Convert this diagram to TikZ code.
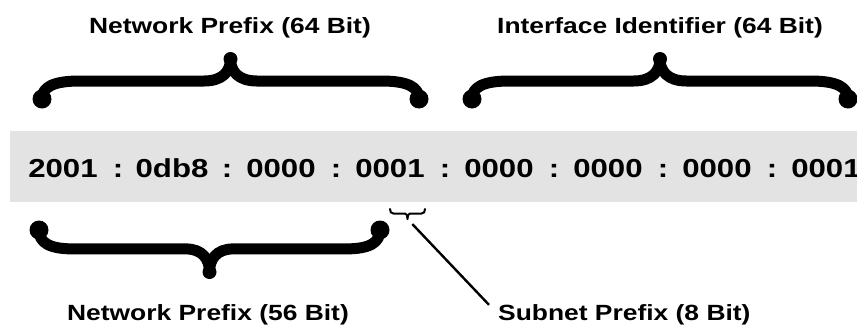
\documentclass[tikz,border=0pt]{standalone}
\usepackage{fontspec}
\newfontfamily\lblfont[FakeStretch=1.2]{Liberation Sans Bold}
\definecolor{band}{HTML}{E3E3E3}
\tikzset{
  lbl/.style={font=\lblfont\fontsize{22}{26}\selectfont,inner sep=0pt,anchor=base},
  addr/.style={font=\lblfont\fontsize{26}{30}\selectfont,inner sep=0pt,anchor=base},
  blob/.style={circle,fill,inner sep=0pt,minimum size=19pt},
  tipblob/.style={circle,fill,inner sep=0pt,minimum size=14pt},
  pics/curly/.style={code={
    \draw[line cap=round,line join=round] (0,0) .. controls (0,0.3) and (0.03,0.45) .. (0.1,0.45)
      -- (0.43,0.45) .. controls (0.48,0.45) and (0.5,0.7) .. (0.5,1)
      .. controls (0.5,0.7) and (0.52,0.45) .. (0.57,0.45)
      -- (0.9,0.45) .. controls (0.97,0.45) and (1,0.3) .. (1,0);
    \path (0,0) node[blob]{} (1,0) node[blob]{} (0.5,1) node[tipblob] (-tip) {};
  }}
}
\begin{document}
\begin{tikzpicture}[x=1pt,y=-1pt]
\useasboundingbox (0,0) rectangle (857,327);
%адрес
\fill[band] (10,131) rectangle (857,202);
\foreach \g [count=\i from 0] in {2001,0db8,0000,0001,0000,0000,0000,0001}
  \node[addr] (g\i) at ({63+109*\i},177) {\g};
\foreach \i in {0,...,6}
  \node[addr] (c\i) at ({118+109*\i},177) {:};
%скобки сверху
\pic[xscale=377,yscale=-40,line width=11pt] (np) at (42,99) {curly};
\pic[xscale=376,yscale=-40,line width=11pt] (ii) at (472,99) {curly};
\node[lbl] (np64) at (230,33) {Network Prefix (64 Bit)};
\node[lbl] (iid) at (660,33) {Interface Identifier (64 Bit)};
%скобки снизу
\pic[xscale=341,yscale=42,line width=11pt] (nb) at (39,230) {curly};
\pic[xscale=35,yscale=10,line width=2pt,blob/.style={},tipblob/.style={}] (sb) at (390,209) {curly};
\node[lbl] (np56) at (208,320) {Network Prefix (56 Bit)};
\node[lbl,anchor=base west] (sub) at (498,320) {Subnet Prefix (8 Bit)};
\draw[line width=2.4pt,shorten <=7pt,shorten >=13pt] (sb-tip.center) -- (sub.west);
\end{tikzpicture}
\end{document}
